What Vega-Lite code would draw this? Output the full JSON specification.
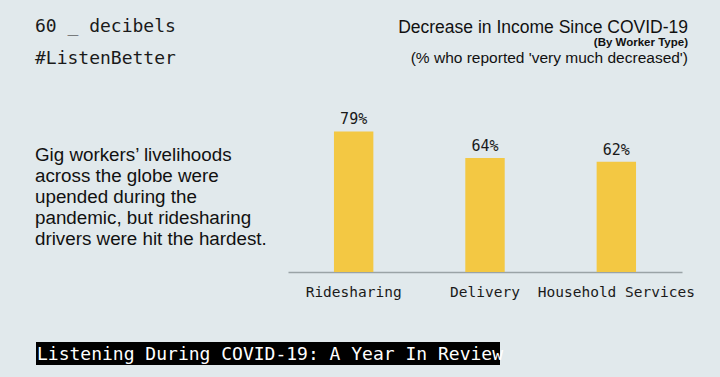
{
  "$schema": "https://vega.github.io/schema/vega-lite/v6.json",
  "autosize": "none",
  "width": 394,
  "height": 178,
  "padding": {"left": 288, "top": 94, "right": 38, "bottom": 105},
  "background": "#e1e9ec",
  "config": {"view": {"stroke": null}},
  "layer": [
    {
      "data": {"values": [
        {"type": "Ridesharing", "share": 0.79},
        {"type": "Delivery", "share": 0.64},
        {"type": "Household Services", "share": 0.62}
      ]},
      "layer": [
        {
          "mark": {"type": "bar", "color": "#f3c843"},
          "encoding": {
            "x": {"field": "type", "type": "nominal", "sort": null,
              "scale": {"paddingInner": 0.7, "paddingOuter": 0.35},
              "axis": {"title": null, "labelAngle": 0, "ticks": false, "domainColor": "#9aa3a6", "domainWidth": 1.5,
                "labelFont": "DejaVu Sans Mono", "labelFontSize": 14.5, "labelColor": "#1a1a1a", "labelPadding": 13}},
            "y": {"field": "share", "type": "quantitative", "scale": {"domain": [0, 1]}, "axis": null}
          }
        },
        {
          "mark": {"type": "text", "font": "DejaVu Sans Mono", "fontSize": 15, "color": "#1a1a1a", "baseline": "alphabetic", "dy": -7},
          "encoding": {
            "x": {"field": "type", "type": "nominal", "sort": null},
            "y": {"field": "share", "type": "quantitative"},
            "text": {"field": "share", "type": "quantitative", "format": ".0%"}
          }
        }
      ]
    },
    {
      "data": {"values": [{}]},
      "layer": [
        {"mark": {"type": "text", "text": "60 _ decibels", "font": "DejaVu Sans Mono", "fontSize": 18, "color": "#1a1a1a", "align": "left", "baseline": "alphabetic"},
         "encoding": {"x": {"value": -253}, "y": {"value": -62}}},
        {"mark": {"type": "text", "text": "#ListenBetter", "font": "DejaVu Sans Mono", "fontSize": 18, "color": "#1a1a1a", "align": "left", "baseline": "alphabetic"},
         "encoding": {"x": {"value": -253}, "y": {"value": -30}}},
        {"mark": {"type": "text", "text": "Decrease in Income Since COVID-19", "font": "Liberation Sans", "fontSize": 17.5, "color": "#111111", "align": "right", "baseline": "alphabetic"},
         "encoding": {"x": {"value": 400}, "y": {"value": -61}}},
        {"mark": {"type": "text", "text": "(By Worker Type)", "font": "Liberation Sans", "fontSize": 11.5, "fontWeight": "bold", "color": "#111111", "align": "right", "baseline": "alphabetic"},
         "encoding": {"x": {"value": 400}, "y": {"value": -48}}},
        {"mark": {"type": "text", "text": "(% who reported 'very much decreased')", "font": "Liberation Sans", "fontSize": 15.5, "color": "#111111", "align": "right", "baseline": "alphabetic"},
         "encoding": {"x": {"value": 400}, "y": {"value": -31}}},
        {"mark": {"type": "text", "text": ["Gig workers’ livelihoods", "across the globe were", "upended during the", "pandemic, but ridesharing", "drivers were hit the hardest."], "font": "Liberation Sans", "fontSize": 18.8, "lineHeight": 21, "color": "#111111", "align": "left", "baseline": "alphabetic"},
         "encoding": {"x": {"value": -253}, "y": {"value": 67}}},
        {"mark": {"type": "rect", "color": "#000000"},
         "encoding": {"x": {"value": -252}, "x2": {"value": 212}, "y": {"value": 248}, "y2": {"value": 271}}},
        {"mark": {"type": "text", "text": "Listening During COVID-19: A Year In Review", "font": "DejaVu Sans Mono", "fontSize": 18, "color": "#ffffff", "align": "left", "baseline": "alphabetic"},
         "encoding": {"x": {"value": -251}, "y": {"value": 266}}}
      ]
    }
  ]
}
